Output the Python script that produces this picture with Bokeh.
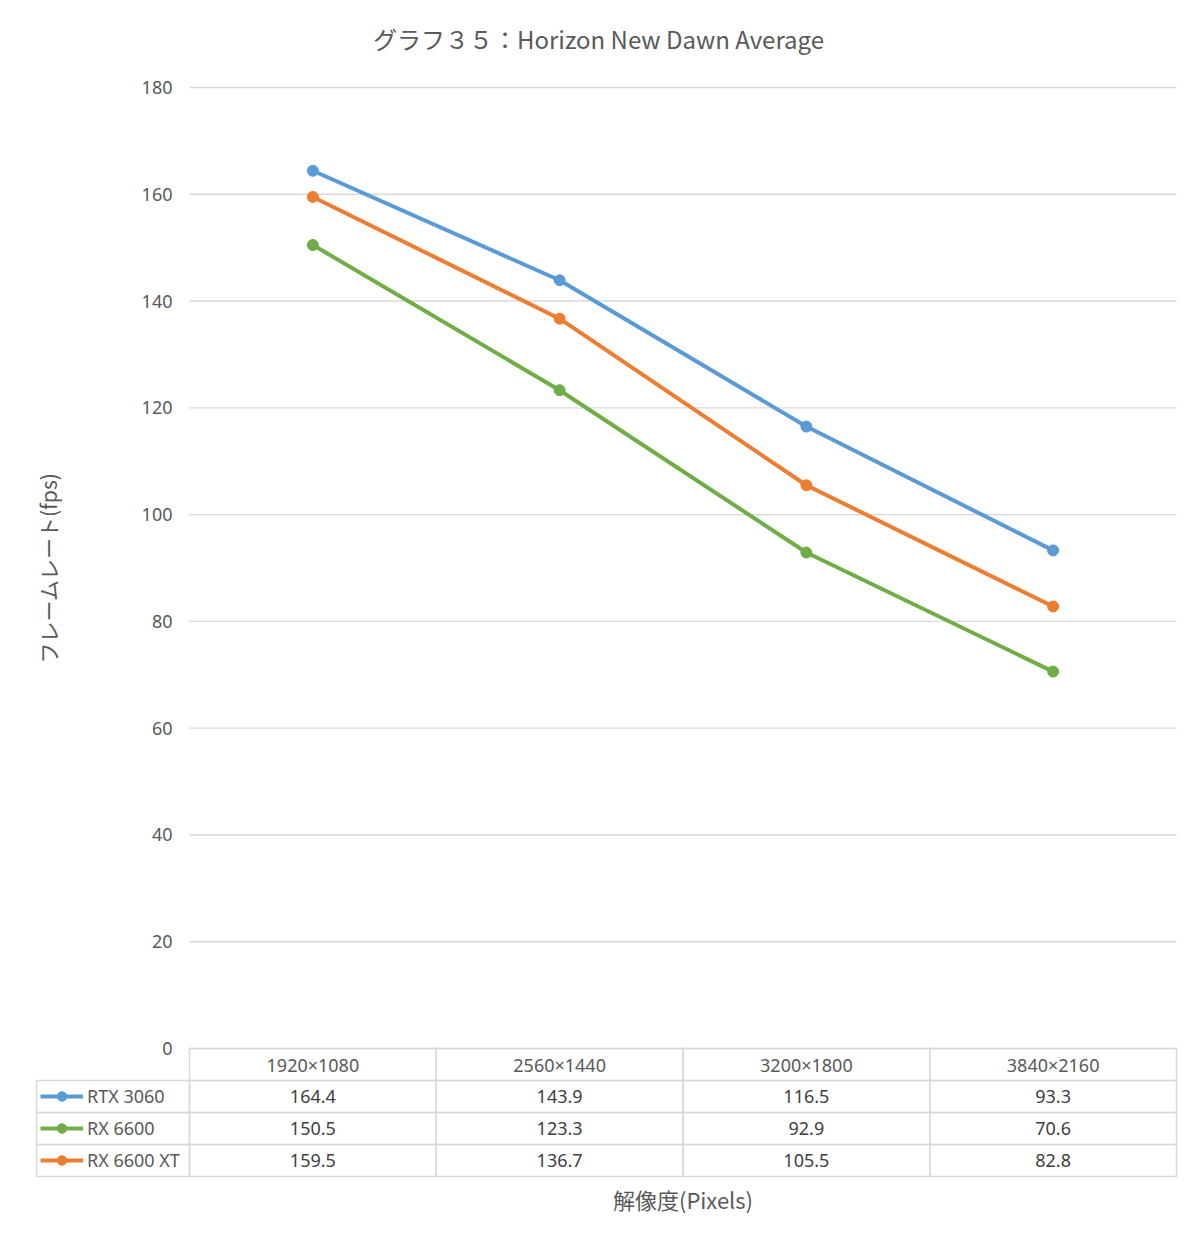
import math
from bokeh.plotting import figure
from bokeh.models import Range1d, Legend, LegendItem
from bokeh.core.properties import value
from bokeh.embed import file_html
from bokeh.resources import INLINE

# ---- data ----
categories = ["1920×1080", "2560×1440", "3200×1800", "3840×2160"]
series_names = ["RTX 3060", "RX 6600", "RX 6600 XT"]
rtx3060 = [164.4, 143.9, 116.5, 93.3]
rx6600 = [150.5, 123.3, 92.9, 70.6]
rx6600xt = [159.5, 136.7, 105.5, 82.8]
y_ticks = [0, 20, 40, 60, 80, 100, 120, 140, 160, 180]
title_text = "グラフ３５：Horizon New Dawn Average"
x_title = "解像度(Pixels)"
y_title = "フレームレート(fps)"

series_values = [rtx3060, rx6600, rx6600xt]
colors = ["#5B9BD5", "#70AD47", "#ED7D31"]

JP = value("Noto Sans CJK JP")
LAT = value("Noto Sans")
GRID = "#D9D9D9"
TXT = "#595959"
VAL = "#404040"

# ---- layout (pixels) ----
W, H = 1184, 1231
PL, PR, PT, PB = 189, 1176, 87, 1048     # plot area
TBL_L, ROW = 36, 32                       # data table: left edge, row height
N = len(categories)
KX = (PR - PL) / N                        # px per category
KY = (PB - PT) / y_ticks[-1]              # px per fps


def X(px):
    return (px - PL) / KX


def Y(px):
    return (PB - px) / KY


p = figure(width=W, height=H,
           x_range=Range1d(X(0), X(W)), y_range=Range1d(Y(H), Y(0)),
           output_backend="svg", toolbar_location=None,
           min_border=0, min_border_left=0, min_border_right=0,
           min_border_top=0, min_border_bottom=0)
p.axis.visible = False
p.grid.visible = False
p.outline_line_color = None
p.background_fill_color = "white"
p.border_fill_color = "white"

xc = [i + 0.5 for i in range(N)]

# gridlines and y tick labels
p.segment(x0=[0] * len(y_ticks), x1=[N] * len(y_ticks), y0=y_ticks, y1=y_ticks,
          line_color=GRID, line_width=1.4)
p.text(x=[0] * len(y_ticks), y=y_ticks, text=[str(t) for t in y_ticks],
       x_offset=-17, text_align="right", text_baseline="middle",
       text_font=LAT, text_font_size="18px", text_color=TXT)

# titles
p.text(x=[X(598)], y=[Y(38)], text=[title_text], text_align="center",
       text_baseline="middle", text_font=JP, text_font_size="24px", text_color=TXT)
p.text(x=[X(47)], y=[y_ticks[-1] / 2], text=[y_title], angle=math.pi / 2,
       text_align="center", text_baseline="middle", text_font=JP,
       text_font_size="21px", text_color=TXT)
p.text(x=[N / 2], y=[Y(1198)], text=[x_title], text_align="center",
       text_baseline="middle", text_font=JP, text_font_size="22px", text_color=TXT)

# series
items = []
for name, vals, col in zip(series_names, series_values, colors):
    rl = p.line(x=xc, y=vals, line_width=4, line_color=col)
    rs = p.scatter(x=xc, y=vals, size=11, fill_color=col, line_color=col)
    items.append(LegendItem(label=name, renderers=[rl, rs]))

# data table
rh = ROW / KY
cell = dict(fill_alpha=0, line_color=GRID, line_width=1.5)
hy = Y(PB + ROW / 2)
p.rect(x=xc, y=[hy] * N, width=1, height=rh, **cell)
p.text(x=xc, y=[hy] * N, text=categories, text_align="center",
       text_baseline="middle", text_font=LAT, text_font_size="18px", text_color=TXT)
lw = (PL - TBL_L) / KX
for r, vals in enumerate(series_values):
    ry = Y(PB + ROW * (r + 1) + ROW / 2)
    p.rect(x=xc, y=[ry] * N, width=1, height=rh, **cell)
    p.rect(x=[-lw / 2], y=[ry], width=lw, height=rh, **cell)
    p.text(x=xc, y=[ry] * N, text=[f"{v:.1f}" for v in vals], text_align="center",
           text_baseline="middle", text_font=LAT, text_font_size="18px",
           text_color=VAL)

# legend keys sit in the table's first column, one per row
ITEM_H = 24
legend_h = 3 * ITEM_H + 2 * (ROW - ITEM_H)
legend_bottom_px = PB + ROW + ROW / 2 - ITEM_H / 2 + legend_h
legend = Legend(items=items, location=(TBL_L + 4, H - legend_bottom_px),
                orientation="vertical", padding=0, margin=0, spacing=ROW - ITEM_H,
                glyph_width=43, glyph_height=ITEM_H, label_height=ITEM_H,
                label_standoff=4, border_line_color=None, background_fill_alpha=0,
                label_text_font="Noto Sans", label_text_font_size="18px",
                label_text_color=TXT)
p.add_layout(legend)

open("out.html", "w").write(file_html(p, INLINE))
